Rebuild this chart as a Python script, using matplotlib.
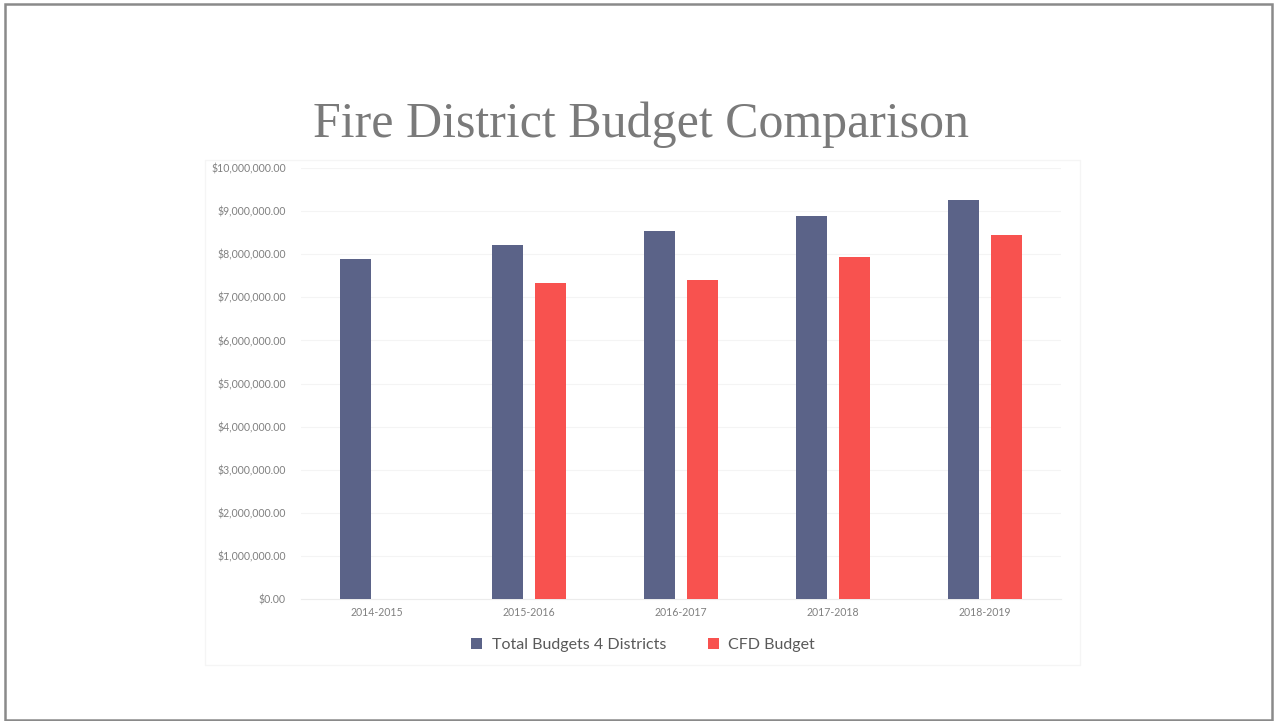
import matplotlib
matplotlib.use("Agg")
import matplotlib.pyplot as plt
from matplotlib.patches import Rectangle
from matplotlib.ticker import FuncFormatter
import numpy as np

categories = ["2014-2015", "2015-2016", "2016-2017", "2017-2018", "2018-2019"]
total_budgets = [7890000, 8210000, 8530000, 8890000, 9260000]
cfd_budget = [0, 7330000, 7400000, 7940000, 8440000]
series_names = ["Total Budgets 4 Districts", "CFD Budget"]
title = "Fire District Budget Comparison"

blue = "#5b6388"
red = "#f8524f"

fig = plt.figure(figsize=(12.77, 7.21), dpi=100)
fig.patch.set_facecolor("white")

# slide border
fig.patches.append(Rectangle((0.004, 0.002), 0.992, 0.992, transform=fig.transFigure,
                             fill=False, edgecolor="#8a8a8a", linewidth=1.8))
# faint chart area border
fig.patches.append(Rectangle((205/1277, 1-665/721), 875/1277, 505/721, transform=fig.transFigure,
                             fill=False, edgecolor="#f5f5f5", linewidth=1.0))

ax = fig.add_axes([301/1277, 1-599/721, 760/1277, 431/721])
x = np.arange(len(categories))
w = 0.2
off = 0.142
ax.bar(x - off, total_budgets, width=w, color=blue, label=series_names[0], zorder=3)
ax.bar(x + off, cfd_budget, width=w, color=red, label=series_names[1], zorder=3)

ax.set_xlim(-0.5, len(categories) - 0.5)
ax.set_ylim(0, 10000000)
ax.set_yticks(np.arange(0, 10000001, 1000000))
ax.yaxis.set_major_formatter(FuncFormatter(lambda v, p: "${:,.2f}".format(v)))
ax.set_xticks(x)
ax.set_xticklabels(categories)
for s in ax.spines.values():
    s.set_visible(False)
ax.spines["bottom"].set_visible(True)
ax.spines["bottom"].set_color("#ececec")
ax.tick_params(axis="both", length=0, labelsize=7.6, labelcolor="#808080", pad=11)
ax.tick_params(axis="x", pad=6)
for lab in ax.get_xticklabels() + ax.get_yticklabels():
    lab.set_fontfamily("Lato")
ax.grid(axis="y", color="#f4f4f4", linewidth=0.8, zorder=0)
ax.set_axisbelow(True)

fig.text(641/1277, 1-137/721, title, ha="center", va="baseline", fontsize=36,
         color="#7a7a7a", family="Liberation Serif")

leg = fig.legend(loc="center", bbox_to_anchor=(643/1277, 1-645/721), ncol=2, frameon=False,
                 handlelength=0.7, handleheight=0.7, columnspacing=2.6,
                 handletextpad=0.6, prop={"family": "Lato", "size": 11.5})
for t in leg.get_texts():
    t.set_color("#595959")

fig.savefig("out.png", dpi=100, facecolor="white")
